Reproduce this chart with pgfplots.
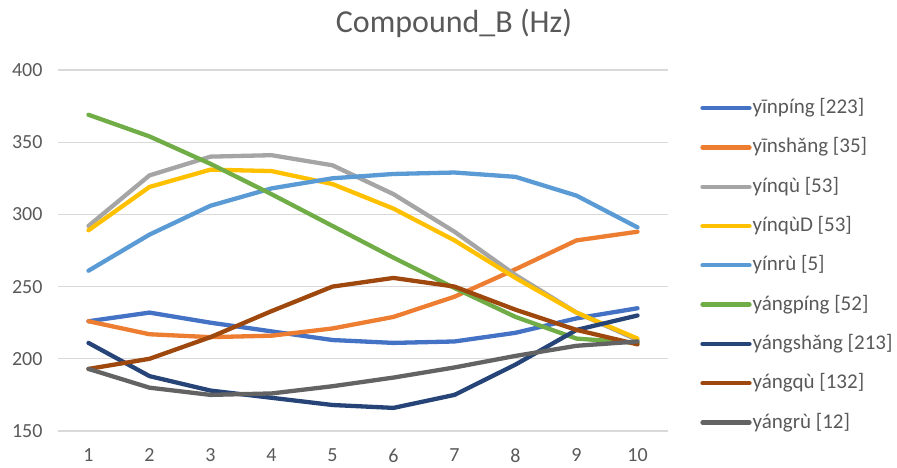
\documentclass[border=0pt]{standalone}
\usepackage{fontspec}
\setmainfont{Carlito}
\usepackage{pgfplots}
\pgfplotsset{compat=1.18}
\definecolor{c1}{HTML}{4472C4}
\definecolor{c2}{HTML}{ED7D31}
\definecolor{c3}{HTML}{A5A5A5}
\definecolor{c4}{HTML}{FFC000}
\definecolor{c5}{HTML}{5B9BD5}
\definecolor{c6}{HTML}{70AD47}
\definecolor{c7}{HTML}{264478}
\definecolor{c8}{HTML}{9E480E}
\definecolor{c9}{HTML}{636363}
\definecolor{txt}{HTML}{595959}
\definecolor{grd}{HTML}{D9D9D9}
\begin{document}
\begin{tikzpicture}
\useasboundingbox (-58pt,-37pt) rectangle (839pt,431pt);
\begin{axis}[
  scale only axis, width=610pt, height=361pt,
  xmin=0.5, xmax=10.5, ymin=150, ymax=400,
  xtick={1,...,10}, ytick={150,200,...,400},
  axis line style={draw=none}, tick style={draw=none},
  ymajorgrids, grid style={grd, line width=1.3pt},
  /pgf/number format/assume math mode=true,
  ticklabel style={font=\fontsize{20}{20}\selectfont, text=txt},
  yticklabel style={xshift=-12pt},
  xticklabel style={yshift=-14pt},
  every axis plot/.append style={line width=4.3pt, line join=round, line cap=round},
  legend cell align=left,
  legend style={draw=none, fill=none, at={(1.053,0.918)}, anchor=north west, inner sep=0pt, outer sep=0pt,
    row sep=22.3pt, font=\fontsize{21}{21}\selectfont, text=txt,
    nodes={inner sep=1pt, text height=13pt, text depth=2pt}},
  legend image code/.code={\draw[#1, line cap=round] (0pt,0pt) -- (47pt,0pt);},
]
\addplot[c1] coordinates {(1,226)(2,232)(3,225)(4,219)(5,213)(6,211)(7,212)(8,218)(9,228)(10,235)};
\addlegendentry{yīnpíng [223]}
\addplot[c2] coordinates {(1,226)(2,217)(3,215)(4,216)(5,221)(6,229)(7,243)(8,262)(9,282)(10,288)};
\addlegendentry{yīnshǎng [35]}
\addplot[c3] coordinates {(1,292)(2,327)(3,340)(4,341)(5,334)(6,314)(7,288)(8,258)(9,232)(10,213)};
\addlegendentry{yínqù [53]}
\addplot[c4] coordinates {(1,289)(2,319)(3,331)(4,330)(5,321)(6,304)(7,282)(8,256)(9,232)(10,214)};
\addlegendentry{yínqùD [53]}
\addplot[c5] coordinates {(1,261)(2,286)(3,306)(4,318)(5,325)(6,328)(7,329)(8,326)(9,313)(10,291)};
\addlegendentry{yínrù [5]}
\addplot[c6] coordinates {(1,369)(2,354)(3,335)(4,314)(5,292)(6,270)(7,249)(8,229)(9,214)(10,211)};
\addlegendentry{yángpíng [52]}
\addplot[c7] coordinates {(1,211)(2,188)(3,178)(4,173)(5,168)(6,166)(7,175)(8,196)(9,220)(10,230)};
\addlegendentry{yángshǎng [213]}
\addplot[c8] coordinates {(1,193)(2,200)(3,215)(4,233)(5,250)(6,256)(7,250)(8,234)(9,220)(10,210)};
\addlegendentry{yángqù [132]}
\addplot[c9] coordinates {(1,193)(2,180)(3,175)(4,176)(5,181)(6,187)(7,194)(8,202)(9,209)(10,212)};
\addlegendentry{yángrù [12]}
\end{axis}
\node[anchor=base, text=txt, font=\fontsize{32}{32}\selectfont] at (396pt,398pt) {Compound\_B (Hz)};
\end{tikzpicture}
\end{document}
